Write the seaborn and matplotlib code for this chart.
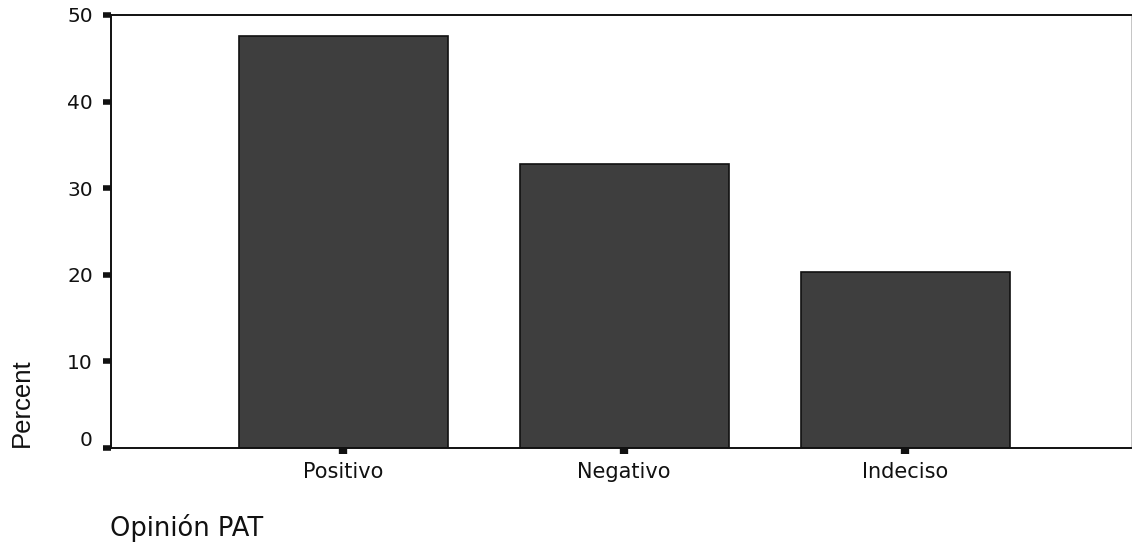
import matplotlib
matplotlib.use("Agg")
import matplotlib.pyplot as plt
import matplotlib.transforms as mtransforms
import seaborn as sns
import pandas as pd

categories = ["Positivo", "Negativo", "Indeciso"]
percent = [47.6, 32.8, 20.3]
y_ticks = [0, 10, 20, 30, 40, 50]

sns.set_style("white")
plt.rcParams['font.family'] = ['DejaVu Sans']

df = pd.DataFrame({"cat": categories, "pct": percent})

fig = plt.figure(figsize=(11.33, 5.45), dpi=100)
ax = fig.add_axes([111/1133, 1 - 448/545, (1131-111)/1133, (448-15)/545])
sns.barplot(data=df, x="cat", y="pct", color="#3e3e3e", saturation=1,
            width=0.744, edgecolor="#111111", linewidth=1.2, ax=ax)
ax.set_xlim(-0.826, 2.804)
ax.set_ylim(0, 50)
ax.set_yticks(y_ticks)
ax.set_yticklabels([str(t) for t in y_ticks])
for s in ax.spines.values():
    s.set_visible(True)
    s.set_color("#111111")
    s.set_linewidth(1.4)
ax.spines['right'].set_linewidth(0.6)
ax.spines['right'].set_color("#bbbbbb")
ax.tick_params(axis='y', direction='out', left=True, length=6, width=4,
               color="#111111", labelsize=14.5, labelcolor="#111111", pad=7)
ax.tick_params(axis='x', direction='out', bottom=True, length=4, width=6,
               color="#111111", labelsize=15, labelcolor="#111111", pad=6)
# the "0" label sits slightly raised in the original
lbl0 = ax.get_yticklabels()[0]
lbl0.set_transform(lbl0.get_transform() + mtransforms.ScaledTranslation(0, 9/100, fig.dpi_scale_trans))
ax.set_xlabel("")
ax.set_ylabel("")
fig.text(110/1133, 1 - 536/545, "Opinión PAT", fontsize=18.5, ha='left', va='baseline',
         color="#111111")
fig.text(22/1133, 1 - 403/545, "Percent", fontsize=18.5, rotation=90, ha='center', va='center',
         color="#111111", family=['Liberation Sans'])
fig.savefig("out.png", dpi=100)
